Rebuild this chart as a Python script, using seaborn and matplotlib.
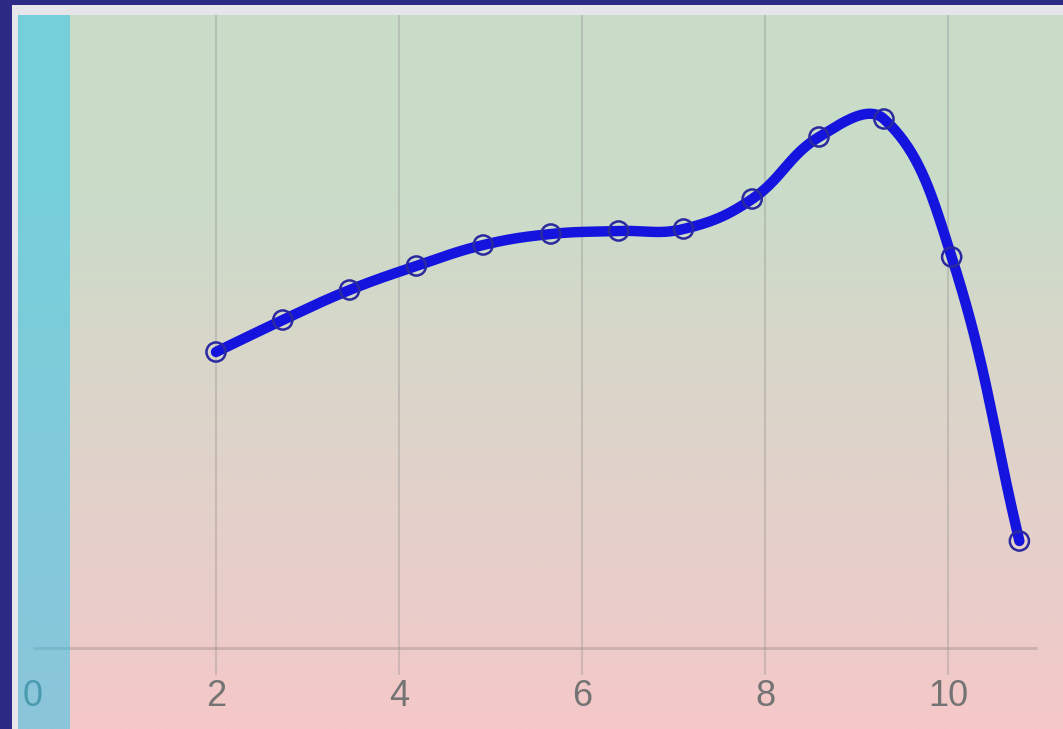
import numpy as np
import matplotlib
matplotlib.use("Agg")
import matplotlib.pyplot as plt
import seaborn as sns
from matplotlib.colors import LinearSegmentedColormap

# ---- data ----
x_vals = [2.0, 2.73, 3.46, 4.19, 4.92, 5.66, 6.40, 7.11, 7.86, 8.59, 9.30, 10.04, 10.78]
y_vals = [2.96, 3.28, 3.58, 3.82, 4.03, 4.14, 4.17, 4.19, 4.49, 5.11, 5.29, 3.91, 1.07]
tick_vals = [0, 2, 4, 6, 8, 10]
tick_labels = ["0", "2", "4", "6", "8", "10"]

sns.set_theme(style="white")
plt.rcParams['font.family'] = ['Liberation Sans', 'DejaVu Sans']

W, H = 1063, 729
fig = plt.figure(figsize=(W / 100, H / 100), dpi=100)
fig.patch.set_facecolor("#2c2a84")

# light frame strip
frame = fig.add_axes([12 / W, 0, 1 - 12 / W, (H - 5) / H])
frame.set_facecolor("#e6e6ea")
frame.set_xticks([]); frame.set_yticks([])
for s in frame.spines.values():
    s.set_visible(False)

ax = fig.add_axes([18 / W, 0, (W - 18) / W, (H - 15) / H])
xmin, xmax = (18 - 33) / 91.5, (W - 33) / 91.5
ymin, ymax = (648 - 729) / 100, (648 - 15) / 100
ax.set_xlim(xmin, xmax)
ax.set_ylim(ymin, ymax)
for s in ax.spines.values():
    s.set_visible(False)
ax.set_xticks([]); ax.set_yticks([])

# gradient background
cmap = LinearSegmentedColormap.from_list(
    "bg", [(0.0, "#f6c8c8"), (0.15, "#ebcdca"), (0.5, "#dad6ca"),
           (0.75, "#cadcc9"), (1.0, "#c8ddc8")])
grad = np.linspace(0, 1, 256).reshape(-1, 1)
ax.imshow(grad, aspect="auto", cmap=cmap, origin="lower",
          extent=[xmin, xmax, ymin, ymax], zorder=0)

# gridlines
grid_bottom = (648 - 675) / 100
for t in tick_vals[1:]:
    ax.vlines(t, grid_bottom, ymax, color="#8a8a8a", alpha=0.32, lw=1.5, zorder=1)
ax.hlines(0, 0, 10.97, color="#a08f8f", alpha=0.45, lw=2, zorder=1)

# tick labels
for t, lab in zip(tick_vals, tick_labels):
    ax.text(t, (648 - 697) / 100, lab, ha="center", va="center",
            fontsize=26, color="#747474", zorder=2)

# left cyan band
ax.axvspan(xmin, 0.40, color=(35 / 255, 195 / 255, 236 / 255), alpha=0.5, lw=0, zorder=3)

# smooth curve (Chart.js-like spline, tension 0.4)
sx, sy = 91.5, 100.0
P = np.column_stack([np.array(x_vals) * sx, np.array(y_vals) * sy])
n = len(P)
tension = 0.4
cp_prev = np.zeros_like(P)
cp_next = np.zeros_like(P)
for i in range(n):
    prev = P[i - 1] if i > 0 else P[i]
    nxt = P[i + 1] if i < n - 1 else P[i]
    d01 = np.hypot(*(P[i] - prev))
    d12 = np.hypot(*(nxt - P[i]))
    tot = d01 + d12
    s01 = d01 / tot if tot else 0
    s12 = d12 / tot if tot else 0
    cp_prev[i] = P[i] - tension * s01 * (nxt - prev)
    cp_next[i] = P[i] + tension * s12 * (nxt - prev)
tt = np.linspace(0, 1, 40)[:, None]
segs = []
for i in range(n - 1):
    b = ((1 - tt) ** 3 * P[i] + 3 * (1 - tt) ** 2 * tt * cp_next[i]
         + 3 * (1 - tt) * tt ** 2 * cp_prev[i + 1] + tt ** 3 * P[i + 1])
    segs.append(b if i == 0 else b[1:])
curve = np.vstack(segs)
cx, cy = curve[:, 0] / sx, curve[:, 1] / sy

sns.lineplot(x=cx, y=cy, sort=False, estimator=None, ax=ax, color="#1414de",
             lw=7.5, zorder=4, solid_capstyle="round")
sns.scatterplot(x=x_vals, y=y_vals, ax=ax, s=190, facecolor="none",
                edgecolor="#2a2a9e", linewidth=1.8, zorder=5)

fig.savefig("out.png", dpi=100, facecolor=fig.get_facecolor())
